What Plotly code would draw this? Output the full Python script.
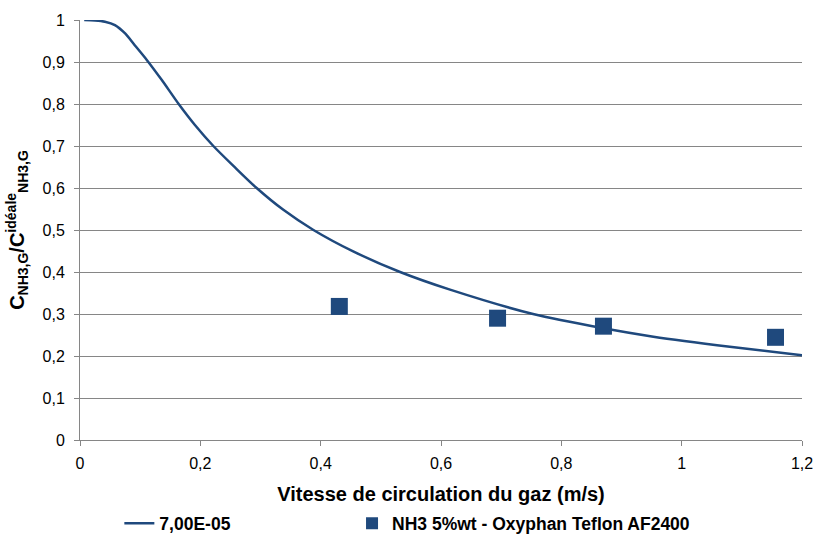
import plotly.graph_objects as go

# Model curve
curve_x = [0.007, 0.025, 0.0415, 0.058, 0.075, 0.091, 0.111, 0.136, 0.164, 0.191, 0.2216, 0.2576,
           0.2936, 0.338, 0.388, 0.454, 0.532, 0.615, 0.753, 0.87, 0.953, 1.08, 1.2]
curve_y = [1.0, 0.999, 0.996, 0.988, 0.968, 0.94, 0.905, 0.857, 0.8, 0.75, 0.7, 0.649,
           0.6, 0.548, 0.5, 0.449, 0.4, 0.358, 0.3, 0.266, 0.246, 0.222, 0.202]
curve_name = "7,00E-05"

# Experimental points
exp_x = [0.431, 0.694, 0.870, 1.156]
exp_y = [0.318, 0.290, 0.271, 0.2445]
exp_name = "NH3 5%wt - Oxyphan Teflon AF2400"

x_ticks = [0, 0.2, 0.4, 0.6, 0.8, 1.0, 1.2]
x_ticklabels = ["0", "0,2", "0,4", "0,6", "0,8", "1", "1,2"]
y_ticks = [0, 0.1, 0.2, 0.3, 0.4, 0.5, 0.6, 0.7, 0.8, 0.9, 1.0]
y_ticklabels = ["0", "0,1", "0,2", "0,3", "0,4", "0,5", "0,6", "0,7", "0,8", "0,9", "1"]

color = "#1f497d"
font = "Liberation Sans, Arial, sans-serif"

fig = go.Figure()
fig.add_trace(go.Scatter(x=curve_x, y=curve_y, mode="lines", name=curve_name, legend="legend",
                         line=dict(color=color, width=2.5, shape="spline", smoothing=0.8)))
fig.add_trace(go.Scatter(x=exp_x, y=exp_y, mode="markers", name=exp_name, legend="legend2",
                         marker=dict(symbol="square", size=17, color=color)))

legend_font = dict(family=font, size=17.5, color="#000", weight="bold")

fig.update_layout(
    width=813, height=534,
    margin=dict(l=80, r=11, t=20, b=94),
    paper_bgcolor="white", plot_bgcolor="white",
    font=dict(family=font, size=16, color="#000000"),
    showlegend=True,
    legend=dict(orientation="h", xref="container", yref="container", x=0.1468, xanchor="left",
                y=0.02, yanchor="middle", font=legend_font, bgcolor="rgba(0,0,0,0)"),
    legend2=dict(orientation="h", xref="container", yref="container", x=0.433, xanchor="left",
                 y=0.02, yanchor="middle", font=legend_font, itemsizing="constant",
                 bgcolor="rgba(0,0,0,0)"),
    xaxis=dict(range=[0, 1.2], tickvals=x_ticks, ticktext=x_ticklabels, automargin=False,
               showgrid=False, zeroline=False, showline=True, linecolor="#868686", linewidth=1,
               ticks="outside", ticklen=5, tickcolor="#868686", ticklabelstandoff=4,
               ticklabeloverflow="allow",
               title=dict(text="<b>Vitesse de circulation du gaz (m/s)</b>", font=dict(size=20), standoff=16)),
    yaxis=dict(range=[0, 1.0], tickvals=y_ticks, ticktext=y_ticklabels, automargin=False,
               showgrid=True, gridcolor="#868686", gridwidth=1, zeroline=False,
               showline=True, linecolor="#868686", linewidth=1,
               ticks="outside", ticklen=5, tickcolor="#868686", ticklabelstandoff=6,
               title=dict(text="<b>C<sub>NH3,G</sub>/C<sup>idéale</sup><sub>NH3,G</sub></b>", font=dict(size=20), standoff=12)),
)

fig.write_html("out.html", config={"displayModeBar": False},
               post_script="document.body.style.margin='0';document.body.style.overflow='hidden';")
